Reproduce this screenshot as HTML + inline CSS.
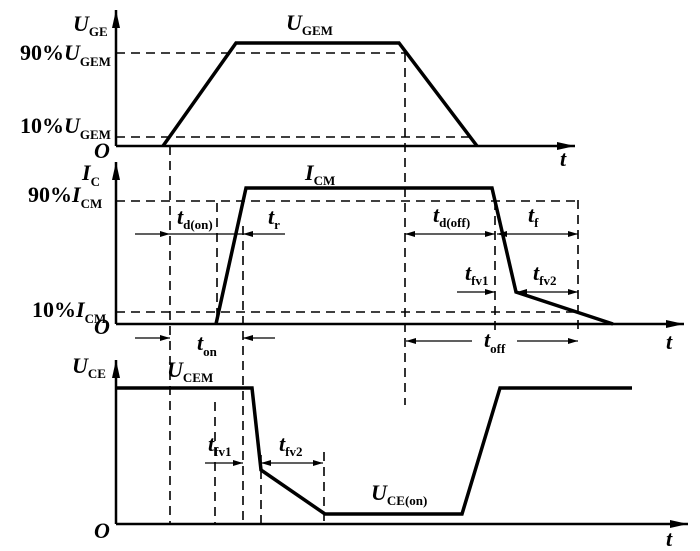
<!DOCTYPE html>
<html><head><meta charset="utf-8"><style>
html,body{margin:0;padding:0;background:#fff;}
svg{display:block;}
text{font-family:"Liberation Serif",serif;font-weight:bold;fill:#000;}
.m{font-size:22px;}
.i{font-style:italic;}
.s{font-size:13px;font-style:normal;}
</style></head><body>
<svg width="700" height="551" viewBox="0 0 700 551" xmlns="http://www.w3.org/2000/svg">
<defs>
<marker id="a" viewBox="0 0 10 6" refX="10" refY="3" markerWidth="10" markerHeight="6" markerUnits="userSpaceOnUse" orient="auto"><path d="M0,0 L10,3 L0,6 Z" fill="#000"/></marker>
<marker id="b" viewBox="0 0 18 8" refX="18" refY="4" markerWidth="18" markerHeight="8" markerUnits="userSpaceOnUse" orient="auto"><path d="M0,0 L18,4 L0,8 Z" fill="#000"/></marker>
</defs>
<g stroke="#000" fill="none">
<!-- axes -->
<g stroke-width="2.5">
<line x1="116" y1="146" x2="116" y2="10" marker-end="url(#b)"/>
<line x1="116" y1="146" x2="575" y2="146" marker-end="url(#b)"/>
<line x1="116" y1="324" x2="116" y2="162" marker-end="url(#b)"/>
<line x1="116" y1="324" x2="684" y2="324" marker-end="url(#b)"/>
<line x1="116" y1="524" x2="116" y2="360" marker-end="url(#b)"/>
<line x1="116" y1="524" x2="688" y2="524" marker-end="url(#b)"/>
</g>
<!-- waveforms -->
<g stroke-width="3.5" stroke-linejoin="miter">
<polyline points="163,146 236,43 399,43 477,146"/>
<polyline points="216,324 246,188 492,188 516,292 613,324"/>
<polyline points="116,388 252,388 261,470 325,514 462,514 500,388 632,388"/>
</g>
<!-- dashed -->
<g stroke-width="1.6" stroke-dasharray="9,6">
<line x1="116" y1="53" x2="405" y2="53"/>
<line x1="116" y1="137" x2="470" y2="137"/>
<line x1="116" y1="201" x2="578" y2="201"/>
<line x1="116" y1="312" x2="578" y2="312"/>
<line x1="170" y1="146" x2="170" y2="524"/>
<line x1="405" y1="53" x2="405" y2="405"/>
<line x1="217" y1="203" x2="217" y2="324"/>
<line x1="243" y1="226" x2="243" y2="524"/>
<line x1="495" y1="201" x2="495" y2="330"/>
<line x1="578" y1="200" x2="578" y2="330"/>
<line x1="215" y1="402" x2="215" y2="524"/>
<line x1="261" y1="455" x2="261" y2="524"/>
<line x1="324" y1="452" x2="324" y2="524"/>
</g>
<!-- dimension arrows -->
<g stroke-width="1.3">
<line x1="135" y1="234" x2="170" y2="234" marker-end="url(#a)"/>
<line x1="285" y1="234" x2="243" y2="234" marker-end="url(#a)"/>
<line x1="170" y1="234" x2="243" y2="234"/>
<line x1="450" y1="234" x2="405" y2="234" marker-end="url(#a)"/>
<line x1="450" y1="234" x2="495" y2="234" marker-end="url(#a)"/>
<line x1="536" y1="234" x2="497" y2="234" marker-end="url(#a)"/>
<line x1="536" y1="234" x2="578" y2="234" marker-end="url(#a)"/>
<line x1="457" y1="292" x2="495" y2="292" marker-end="url(#a)"/>
<line x1="547" y1="292" x2="517" y2="292" marker-end="url(#a)"/>
<line x1="547" y1="292" x2="578" y2="292" marker-end="url(#a)"/>
<line x1="135" y1="338" x2="170" y2="338" marker-end="url(#a)"/>
<line x1="275" y1="338" x2="243" y2="338" marker-end="url(#a)"/>
<line x1="472" y1="341" x2="406" y2="341" marker-end="url(#a)"/>
<line x1="517" y1="341" x2="578" y2="341" marker-end="url(#a)"/>
<line x1="205" y1="463" x2="243" y2="463" marker-end="url(#a)"/>
<line x1="292" y1="463" x2="261" y2="463" marker-end="url(#a)"/>
<line x1="292" y1="463" x2="323" y2="463" marker-end="url(#a)"/>
</g>
</g>
<!-- labels -->
<g class="m">
<text x="73" y="31"><tspan class="i">U</tspan><tspan class="s" dy="5">GE</tspan></text>
<text x="286" y="30"><tspan class="i">U</tspan><tspan class="s" dy="5">GEM</tspan></text>
<text x="20" y="60">90%<tspan class="i">U</tspan><tspan class="s" dy="6">GEM</tspan></text>
<text x="20" y="133">10%<tspan class="i">U</tspan><tspan class="s" dy="6">GEM</tspan></text>
<text x="94" y="158" class="i">O</text>
<text x="560" y="166" class="i">t</text>
<text x="82" y="180"><tspan class="i">I</tspan><tspan class="s" dy="6">C</tspan></text>
<text x="305" y="180"><tspan class="i">I</tspan><tspan class="s" dy="5">CM</tspan></text>
<text x="28" y="202">90%<tspan class="i">I</tspan><tspan class="s" dy="6">CM</tspan></text>
<text x="177" y="224"><tspan class="i">t</tspan><tspan class="s" dy="5">d(on)</tspan></text>
<text x="268" y="224"><tspan class="i">t</tspan><tspan class="s" dy="5">r</tspan></text>
<text x="32" y="317">10%<tspan class="i">I</tspan><tspan class="s" dy="6">CM</tspan></text>
<text x="94" y="334" class="i">O</text>
<text x="197" y="350"><tspan class="i">t</tspan><tspan class="s" dy="6">on</tspan></text>
<text x="433" y="222"><tspan class="i">t</tspan><tspan class="s" dy="5">d(off)</tspan></text>
<text x="528" y="222"><tspan class="i">t</tspan><tspan class="s" dy="5">f</tspan></text>
<text x="465" y="280"><tspan class="i">t</tspan><tspan class="s" dy="5">fv1</tspan></text>
<text x="533" y="280"><tspan class="i">t</tspan><tspan class="s" dy="5">fv2</tspan></text>
<text x="484" y="347"><tspan class="i">t</tspan><tspan class="s" dy="6">off</tspan></text>
<text x="666" y="349" class="i">t</text>
<text x="72" y="373"><tspan class="i">U</tspan><tspan class="s" dy="5">CE</tspan></text>
<text x="167" y="377"><tspan class="i">U</tspan><tspan class="s" dy="5">CEM</tspan></text>
<text x="208" y="451"><tspan class="i">t</tspan><tspan class="s" dy="5">fv1</tspan></text>
<text x="279" y="451"><tspan class="i">t</tspan><tspan class="s" dy="5">fv2</tspan></text>
<text x="371" y="500"><tspan class="i">U</tspan><tspan class="s" dy="5">CE(on)</tspan></text>
<text x="94" y="538" class="i">O</text>
<text x="666" y="546" class="i">t</text>
</g>
</svg>
</body></html>
